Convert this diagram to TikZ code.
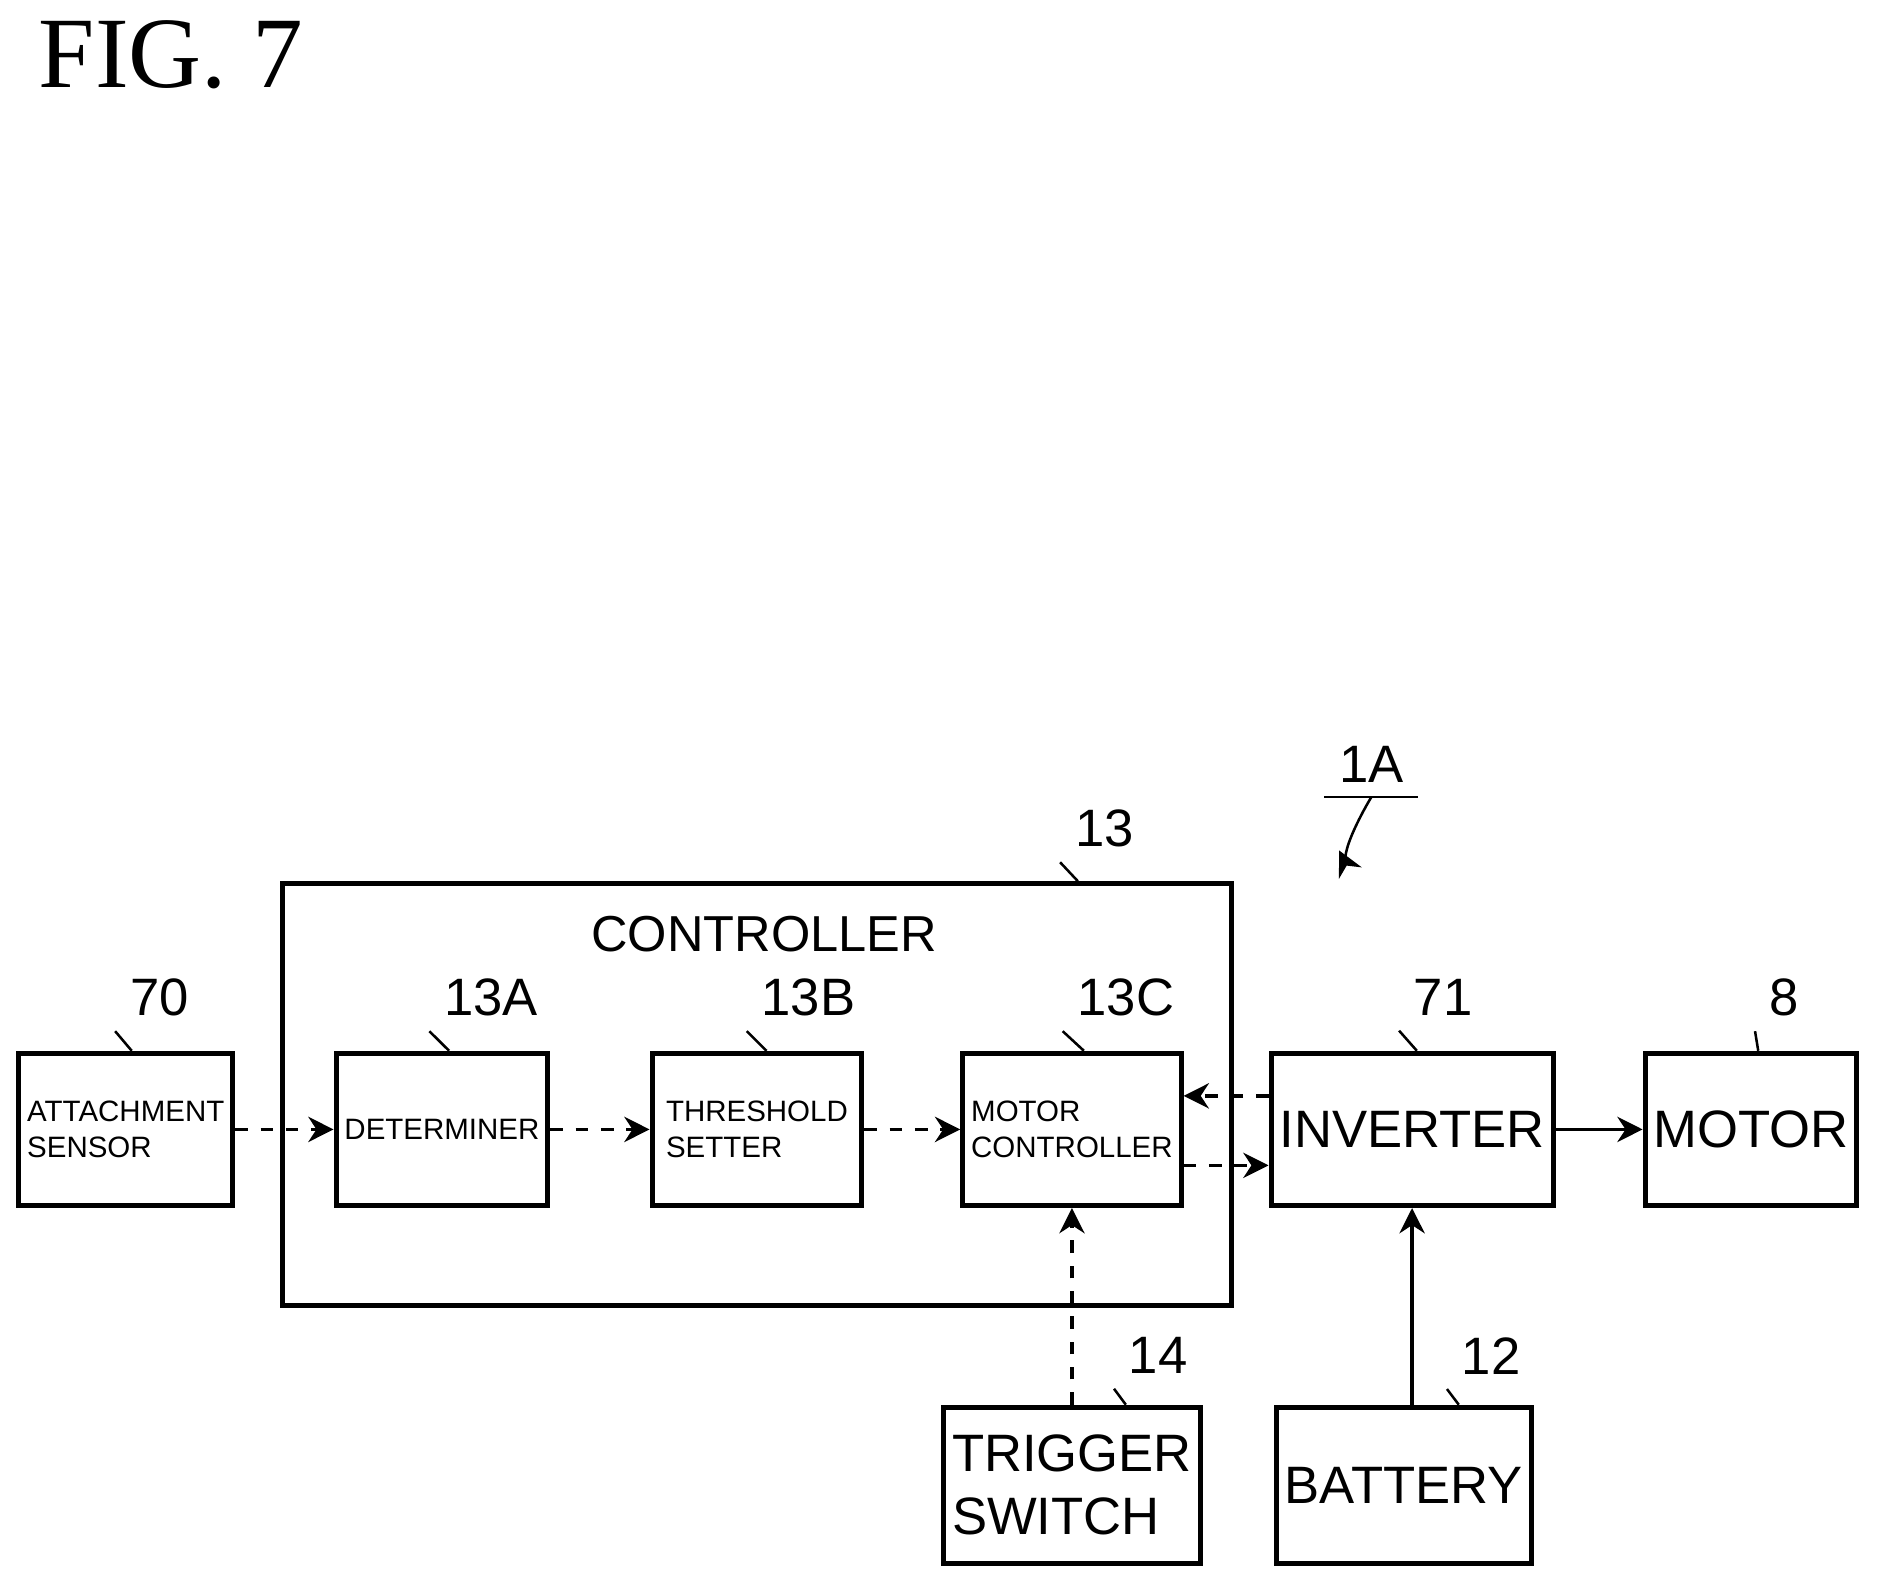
\documentclass[tikz,border=0pt]{standalone}
\usepackage{fontspec}
\setmainfont{Liberation Sans}
\newfontfamily\figfont{Liberation Serif}
\usetikzlibrary{positioning,arrows.meta}
\tikzset{
  block/.style  = {shape=rectangle, draw, line width=1.2pt, inner sep=2pt,
                   minimum width=1.75cm, minimum height=1.27cm},
  small/.style  = {block, font=\fontsize{7}{8.5}\selectfont, align=left},
  big/.style    = {block, font=\fontsize{12.5}{15}\selectfont, align=left},
  refnum/.style = {font=\fontsize{12.5}{15}\selectfont},
  sig/.style    = {dashed, line width=0.8pt, -{Stealth[length=6pt,width=6pt]}},
  pwr/.style    = {line width=0.8pt, -{Stealth[length=6pt,width=6pt]}},
  leader/.style = {line width=0.6pt}
}
\newcommand{\tildeto}[2]{% squiggly leader from label to box
  \draw[leader] (#1) .. controls +(-0.05,-0.12) and +(0.05,0.12) .. (#2);}
\begin{document}
\begin{tikzpicture}[x=0.01cm, y=-0.01cm]
  \useasboundingbox (0,0) rectangle (1568,1322);
  \node[anchor=north west, font=\figfont\fontsize{24}{28}\selectfont] (fig) at (20,5) {FIG. 7};

  % controller frame
  \node[block, minimum width=7.92cm, minimum height=3.52cm] (ctrl) at (632,914) {};
  \node[font=\fontsize{12}{14}\selectfont] (ctrltxt) at (638,780) {CONTROLLER};

  % blocks
  \node[small] (sensor) at (105,943) {ATTACHMENT\\SENSOR};
  \node[small] (det)    at (369,943) {DETERMINER};
  \node[small] (thr)    at (632,943) {THRESHOLD\\SETTER};
  \node[small] (mctl)   at (895,943) {MOTOR\\CONTROLLER};
  \node[big, minimum width=2.14cm, align=center] (inv) at (1179,943) {INVERTER};
  \node[big, align=center] (motor) at (1462,943) {MOTOR};
  \node[big, minimum height=1.3cm] (trig) at (895,1240) {TRIGGER\\SWITCH};
  \node[big, minimum height=1.3cm, align=center] (batt) at (1172,1240) {BATTERY};

  % reference numerals
  \node[refnum] (n13)  at (922,692)  {13};
  \node[refnum] (n70)  at (133,833)  {70};
  \node[refnum] (n13a) at (410,833)  {13A};
  \node[refnum] (n13b) at (675,833)  {13B};
  \node[refnum] (n13c) at (940,833)  {13C};
  \node[refnum] (n71)  at (1205,833) {71};
  \node[refnum] (n8)   at (1490,833) {8};
  \node[refnum] (n14)  at (967,1132) {14};
  \node[refnum] (n12)  at (1245,1132) {12};
  \node[refnum] (n1a)  at (1145,638) {1A};
  \draw[leader] (n1a.south west) -- (n1a.south east);

  \tildeto{n13.south west}{ctrl.north -| 900,0}
  \tildeto{n70.south west}{sensor.north -| 110,0}
  \tildeto{n13a.south west}{det.north -| 375,0}
  \tildeto{n13b.south west}{thr.north -| 640,0}
  \tildeto{n13c.south west}{mctl.north -| 905,0}
  \tildeto{n71.south west}{inv.north -| 1183,0}
  \tildeto{n8.south west}{motor.north -| 1468,0}
  \tildeto{n14.south west}{trig.north -| 940,0}
  \tildeto{n12.south west}{batt.north -| 1218,0}
  \coordinate (sys) at (1118,710);
  \draw[pwr, line width=0.6pt] (n1a.south) .. controls +(-0.05,-0.2) and +(0.05,0.1) .. (sys);

  % connections
  \draw[sig] (sensor) -- (det);
  \draw[sig] (det) -- (thr);
  \draw[sig] (thr) -- (mctl);
  \draw[sig] ([yshift=-0.3cm]mctl.east) -- ([yshift=-0.3cm]inv.west);
  \draw[sig] ([yshift=0.28cm]inv.west) -- ([yshift=0.28cm]mctl.east);
  \draw[pwr] (inv) -- (motor);
  \draw[sig] (trig) -- (mctl);
  \draw[pwr] (batt.north -| inv) -- (inv);
\end{tikzpicture}
\end{document}
